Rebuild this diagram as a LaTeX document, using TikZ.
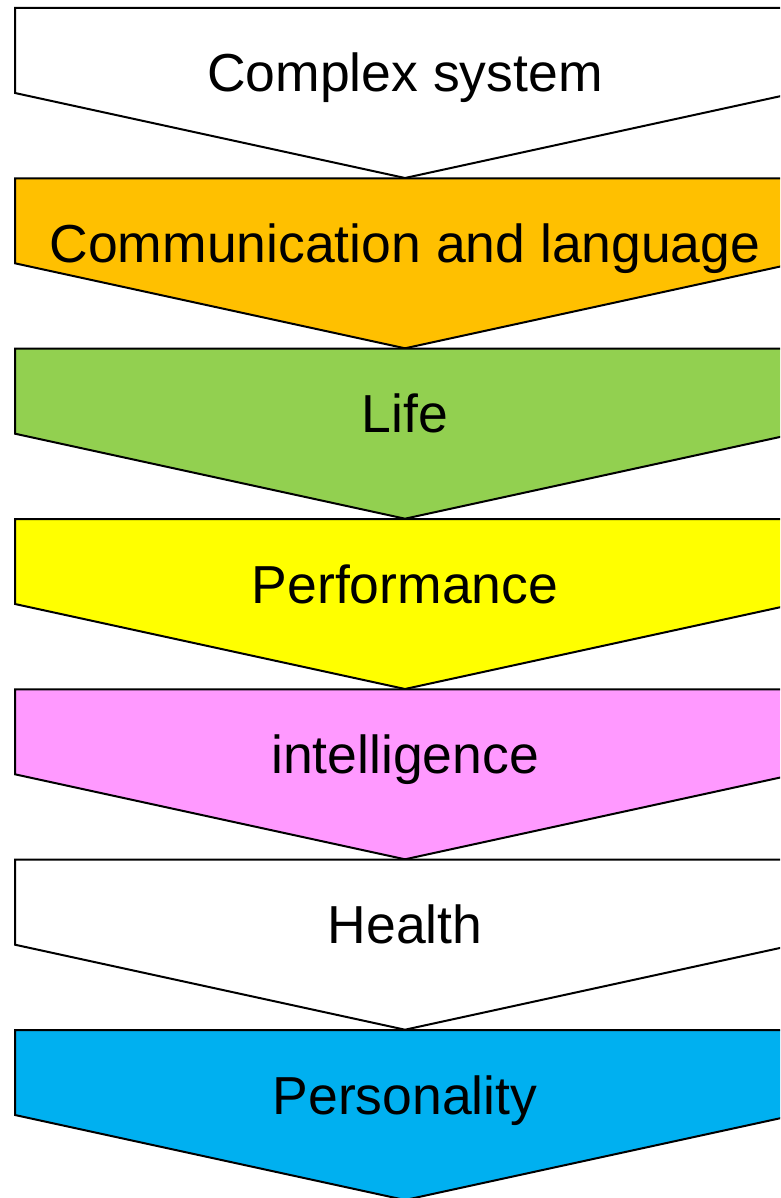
\documentclass[tikz,border=0pt]{standalone}
\usepackage{fontspec}
\setmainfont{Liberation Sans}
\definecolor{cOrange}{HTML}{FFC000}
\definecolor{cGreen}{HTML}{92D050}
\definecolor{cYellow}{HTML}{FFFF00}
\definecolor{cPink}{HTML}{FF99FF}
\definecolor{cBlue}{HTML}{00B0F0}
\tikzset{
  chev/.style={draw=black, line width=2pt, line join=miter},
  lbl/.style={anchor=base, inner sep=0pt, font=\fontsize{53.5}{60}\selectfont, text=black}
}
\newcommand{\chevron}[4]{% #1 top y, #2 fill, #3 name, #4 text
  \path[chev, fill=#2] (15,#1) -- (795,#1) -- (795,#1+85) -- (405,#1+170) -- (15,#1+85) -- cycle;
  \node[lbl] (#3) at (405,#1+84) {#4};
}
\begin{document}
\begin{tikzpicture}[x=1pt,y=-1pt]
\useasboundingbox (0,0) rectangle (780,1198);
\clip (0,0) rectangle (780,1198);
\chevron{8}{white}{s1}{Complex system}
\chevron{178.3}{cOrange}{s2}{Communication and language}
\chevron{348.7}{cGreen}{s3}{Life}
\chevron{519}{cYellow}{s4}{Performance}
\chevron{689.3}{cPink}{s5}{intelligence}
\chevron{859.7}{white}{s6}{Health}
\chevron{1030}{cBlue}{s7}{Personality}
\end{tikzpicture}
\end{document}
